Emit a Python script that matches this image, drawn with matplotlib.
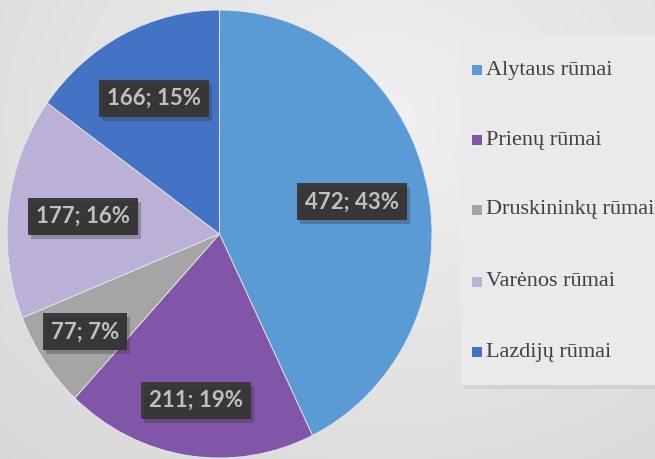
import numpy as np
import matplotlib.pyplot as plt

# --- Pie chart of counts per "rūmai" ---
categories = ['Alytaus rūmai', 'Prienų rūmai', 'Druskininkų rūmai',
              'Varėnos rūmai', 'Lazdijų rūmai']
counts = [472, 211, 77, 177, 166]
colors = ['#5B9BD5', '#8156A8', '#A5A5A5', '#BBB0D6', '#4472C4']

# label distance from centre (fraction of radius), per slice
label_r = [0.64, 0.75, 0.77, 0.645, 0.68]

W, H = 655, 459
fig = plt.figure(figsize=(W / 100, H / 100), dpi=100)

# background: soft grey gradient
bg = fig.add_axes([0, 0, 1, 1])
yy, xx = np.mgrid[0:H, 0:W]
d = np.sqrt(((xx - 380) / 520.0) ** 2 + ((yy - 120) / 420.0) ** 2)
shade = np.clip(0.94 - 0.09 * d, 0.82, 0.95)
bg.imshow(shade, cmap='gray', vmin=0, vmax=1, aspect='auto',
          extent=[0, W, H, 0], interpolation='bilinear')
bg.set_xlim(0, W)
bg.set_ylim(H, 0)
bg.axis('off')

# legend panel with a light shadow
bg.add_patch(plt.Rectangle((464, 39), 200, 350, color='#BDBDBD', alpha=0.35, lw=0))
bg.add_patch(plt.Rectangle((461, 35), 200, 350, color='#EAEAEA', lw=0))

# pie axes (image is slightly stretched vertically)
cx, cy, rx, ry = 219.5, 234, 212.5, 224
ax = fig.add_axes([(cx - rx) / W, (H - cy - ry) / H, 2 * rx / W, 2 * ry / H])
wedges, _ = ax.pie(counts, colors=colors, startangle=90, counterclock=False,
                   radius=1.0, wedgeprops=dict(edgecolor='#E8E8E8', linewidth=0.6))
ax.set_aspect('auto')
ax.set_xlim(-1, 1)
ax.set_ylim(-1, 1)

total = sum(counts)
labels = []
for w, v, r in zip(wedges, counts, label_r):
    ang = np.deg2rad((w.theta1 + w.theta2) / 2)
    x, y = r * np.cos(ang), r * np.sin(ang)
    txt = f'{v}; {round(100 * v / total)}%'
    t = ax.text(x, y, txt, ha='center', va='center', fontsize=16,
                family='Lato', weight='bold', color='white', zorder=5,
                bbox=dict(boxstyle='square,pad=0.36', fc='#3C3A3A', ec='none'))
    labels.append(t)

# legend entries (Times-like serif), placed in figure pixels
leg_y = [70, 140, 210, 282, 352]
for name, c, ly in zip(categories, colors, leg_y):
    bg.add_patch(plt.Rectangle((472, ly - 5), 10, 10, color=c, lw=0))
    fig.text(486 / W, 1 - ly / H, name, ha='left', va='center', fontsize=16,
             family='Liberation Serif', color='#404040', zorder=10)

# drop shadows behind the label boxes
fig.canvas.draw()
renderer = fig.canvas.get_renderer()
for t in labels:
    bb = t.get_bbox_patch().get_window_extent(renderer)
    fig.patches.append(plt.Rectangle((bb.x0 + 3, bb.y0 - 4), bb.width, bb.height,
                                     transform=None, color='#303030', alpha=0.3,
                                     lw=0, zorder=4, figure=fig))
ax.set_zorder(2)

fig.savefig('out.png', dpi=100)
